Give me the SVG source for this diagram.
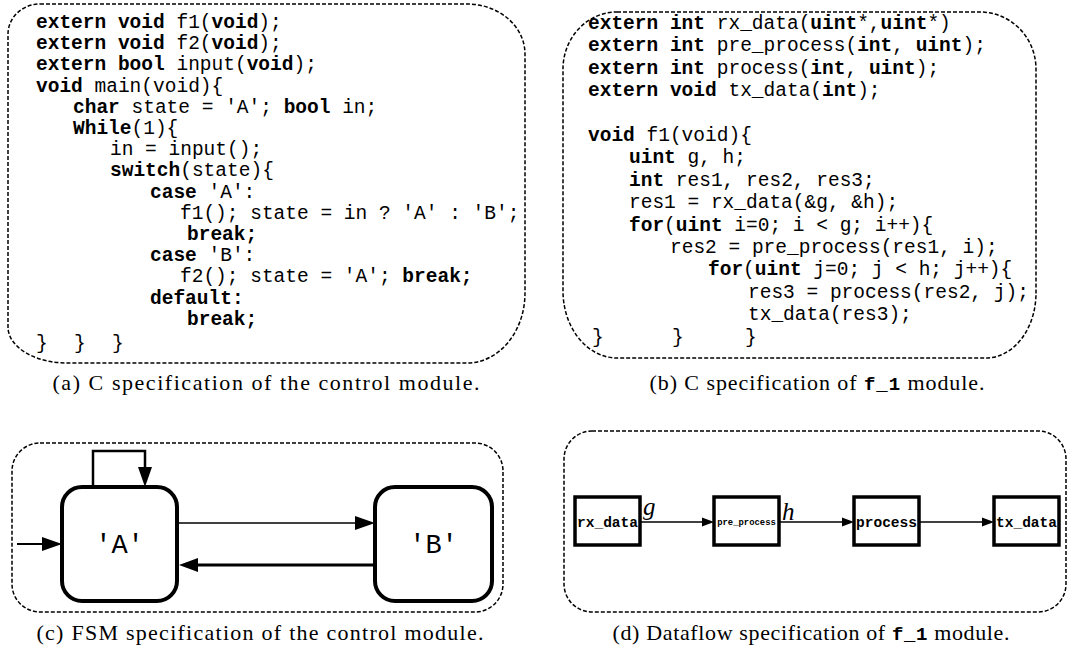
<svg xmlns="http://www.w3.org/2000/svg" width="1068" height="649" viewBox="0 0 1068 649">
<style>
.code{font-family:"Liberation Mono","Courier New",monospace;font-size:19.5px;fill:#000;white-space:pre}
.b{font-weight:bold}
.frame{fill:none;stroke:#000;stroke-width:1.5;stroke-dasharray:4 2}
.cap{font-family:"Liberation Serif","Times New Roman",serif;font-size:22px;fill:#000;white-space:pre}
.tt{font-family:"Liberation Mono",monospace;font-weight:bold;font-size:19px}
.state{fill:#fff;stroke:#000;stroke-width:4}
.st{font-family:"Liberation Mono","Courier New",monospace;font-size:27px;fill:#000;white-space:pre}
.blk{fill:#fff;stroke:#000;stroke-width:3.5}
.bl{font-family:"Liberation Mono",monospace;font-weight:bold;font-size:14.5px;fill:#000}
.ln{fill:none;stroke:#000}
.ital{font-family:"Liberation Serif",serif;font-style:italic;font-size:25px;fill:#000}
</style>

<g id="panel-a">
<path class="frame" d="M40,4 H467 A58 50 0 0 1 525,54 V293 A58 70 0 0 1 467,363 H67 A59 36 0 0 1 8,327 V34 A32 30 0 0 1 40,4 Z"/>
<text class="code" x="36" y="28"><tspan class="b">extern void</tspan> f1(<tspan class="b">void</tspan>);</text>
<text class="code" x="36" y="49.2"><tspan class="b">extern void</tspan> f2(<tspan class="b">void</tspan>);</text>
<text class="code" x="36" y="70.4"><tspan class="b">extern bool</tspan> input(<tspan class="b">void</tspan>);</text>
<text class="code" x="36" y="91.6"><tspan class="b">void</tspan> main(void){</text>
<text class="code" x="73" y="112.8"><tspan class="b">char</tspan> state = 'A'; <tspan class="b">bool</tspan> in;</text>
<text class="code" x="73" y="134"><tspan class="b">While</tspan>(1){</text>
<text class="code" x="110" y="155.2">in = input();</text>
<text class="code" x="110" y="176.4"><tspan class="b">switch</tspan>(state){</text>
<text class="code" x="150" y="197.6"><tspan class="b">case</tspan> 'A':</text>
<text class="code" x="180" y="218.8">f1(); state = in ? 'A' : 'B';</text>
<text class="code b" x="187" y="240">break;</text>
<text class="code" x="150" y="261.2"><tspan class="b">case</tspan> 'B':</text>
<text class="code" x="180" y="282.4">f2(); state = 'A'; <tspan class="b">break;</tspan></text>
<text class="code b" x="150" y="303.6">default:</text>
<text class="code b" x="187" y="324.8">break;</text>
<text class="code" x="36" y="349">}</text>
<text class="code" x="74" y="349">}</text>
<text class="code" x="112" y="349">}</text>
</g>

<g id="panel-b">
<path class="frame" d="M617,12 H980 A56 57 0 0 1 1036,69 V293 A50 65 0 0 1 986,358 H617 A54 67 0 0 1 563,291 V69 A54 57 0 0 1 617,12 Z"/>
<text class="code" x="588" y="29"><tspan class="b">extern int</tspan> rx_data(<tspan class="b">uint</tspan>*,<tspan class="b">uint</tspan>*)</text>
<text class="code" x="588" y="51.4"><tspan class="b">extern int</tspan> pre_process(<tspan class="b">int</tspan>, <tspan class="b">uint</tspan>);</text>
<text class="code" x="588" y="73.8"><tspan class="b">extern int</tspan> process(<tspan class="b">int</tspan>, <tspan class="b">uint</tspan>);</text>
<text class="code" x="588" y="96.2"><tspan class="b">extern void</tspan> tx_data(<tspan class="b">int</tspan>);</text>
<text class="code" x="588" y="141"><tspan class="b">void</tspan> f1(void){</text>
<text class="code" x="629" y="163.4"><tspan class="b">uint</tspan> g, h;</text>
<text class="code" x="629" y="185.8"><tspan class="b">int</tspan> res1, res2, res3;</text>
<text class="code" x="629" y="208.2">res1 = rx_data(&amp;g, &amp;h);</text>
<text class="code" x="629" y="230.6"><tspan class="b">for</tspan>(<tspan class="b">uint</tspan> i=0; i &lt; g; i++){</text>
<text class="code" x="670" y="253">res2 = pre_process(res1, i);</text>
<text class="code" x="708" y="275.4"><tspan class="b">for</tspan>(<tspan class="b">uint</tspan> j=0; j &lt; h; j++){</text>
<text class="code" x="748" y="297.8">res3 = process(res2, j);</text>
<text class="code" x="748" y="320.2">tx_data(res3);</text>
<text class="code" x="592" y="343">}</text>
<text class="code" x="672" y="343">}</text>
<text class="code" x="745" y="343">}</text>
</g>

<g id="panel-c">
<path class="frame" d="M40,443 H475 A28 28 0 0 1 503,471 V584 A28 28 0 0 1 475,612 H40 A28 28 0 0 1 12,584 V471 A28 28 0 0 1 40,443 Z"/>
</g>

<g id="state-A">
<rect class="state" x="62" y="487" width="115" height="114" rx="20"/>
<text class="st" x="119.5" y="553" text-anchor="middle">'A'</text>
</g>
<g id="state-B">
<rect class="state" x="375" y="487" width="117" height="114" rx="20"/>
<text class="st" x="433.5" y="553" text-anchor="middle">'B'</text>
</g>

<g id="panel-d">
<path class="frame" d="M592,431 H1038 A28 28 0 0 1 1066,459 V584 A28 28 0 0 1 1038,612 H592 A28 28 0 0 1 564,584 V459 A28 28 0 0 1 592,431 Z"/>
</g>

<g id="node-rx_data">
<rect class="blk" x="575" y="497" width="65" height="48"/>
<text class="bl" x="607.5" y="526.5" text-anchor="middle">rx_data</text>
</g>
<g id="node-pre_process">
<rect class="blk" x="714" y="497" width="65" height="48"/>
<text class="bl" x="746.5" y="525" text-anchor="middle" style="font-size:8.9px">pre_process</text>
</g>
<g id="node-process">
<rect class="blk" x="854" y="497" width="65" height="48"/>
<text class="bl" x="886.5" y="526.5" text-anchor="middle">process</text>
</g>
<g id="node-tx_data">
<rect class="blk" x="994" y="497" width="65" height="48"/>
<text class="bl" x="1026.5" y="526.5" text-anchor="middle">tx_data</text>
</g>

<g id="connectors">
<polyline class="ln" stroke-width="2.5" points="93,487 93,451 145,451 145,468"/>
<polygon points="138,467 152,467 145,487"/>
<line class="ln" stroke-width="2" x1="17" y1="544" x2="44" y2="544"/>
<polygon points="42,537 42,551 62,544"/>
<line class="ln" stroke-width="1.7" x1="179" y1="523" x2="357" y2="523"/>
<polygon points="355,516 355,530 375,523"/>
<line class="ln" stroke-width="3" x1="373" y1="565" x2="196" y2="565"/>
<polygon points="198,558 198,572 179,565"/>
<line class="ln" stroke-width="1.3" x1="641" y1="522" x2="704" y2="522"/>
<polygon points="702,517.5 702,526.5 714,522"/>
<line class="ln" stroke-width="1.3" x1="780" y1="522" x2="844" y2="522"/>
<polygon points="842,517.5 842,526.5 854,522"/>
<line class="ln" stroke-width="1.3" x1="920" y1="522" x2="984" y2="522"/>
<polygon points="982,517.5 982,526.5 994,522"/>
<text class="ital" x="643" y="515">g</text>
<text class="ital" x="782" y="520">h</text>
</g>

<g id="captions">
<text class="cap" x="266" y="390" text-anchor="middle" textLength="427" lengthAdjust="spacing">(a) C specification of the control module.</text>
<text class="cap" x="817" y="390" text-anchor="middle" textLength="335" lengthAdjust="spacing">(b) C specification of <tspan class="tt">f_1</tspan> module.</text>
<text class="cap" x="260" y="640" text-anchor="middle" textLength="447" lengthAdjust="spacing">(c) FSM specification of the control module.</text>
<text class="cap" x="811" y="640" text-anchor="middle" textLength="397" lengthAdjust="spacing">(d) Dataflow specification of <tspan class="tt">f_1</tspan> module.</text>
</g>
</svg>
